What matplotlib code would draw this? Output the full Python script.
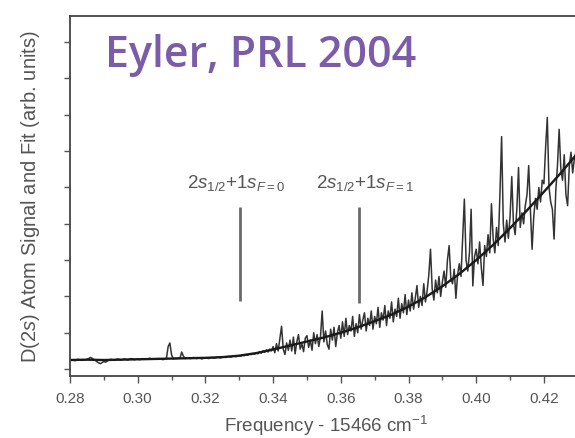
"""
D(2s) atom signal and fit vs. frequency (Eyler, PRL 2004) - reproduction.
"""

import numpy as np
import matplotlib
matplotlib.use('Agg')
import matplotlib.pyplot as plt
from matplotlib.ticker import MultipleLocator, FixedLocator

# === Data (arb. units) ===
FREQ_START = 0.2800   # Frequency - 15466 cm^-1
FREQ_STEP = 0.0005

SIGNAL = [
    0.24, 0.26, 0.25, 0.23, 0.26, 0.27, 0.25, 0.24, 0.26, 0.25,
    0.27, 0.29, 0.32, 0.30, 0.27, 0.24, 0.20, 0.17, 0.15, 0.18,
    0.21, 0.19, 0.22, 0.25, 0.27, 0.26, 0.24, 0.26, 0.28, 0.27,
    0.25, 0.26, 0.28, 0.27, 0.25, 0.27, 0.29, 0.28, 0.26, 0.27,
    0.28, 0.26, 0.27, 0.29, 0.28, 0.27, 0.28, 0.30, 0.28, 0.27,
    0.28, 0.27, 0.29, 0.28, 0.27, 0.26, 0.28, 0.30, 0.62, 0.72,
    0.40, 0.28, 0.30, 0.29, 0.31, 0.30, 0.47, 0.36, 0.29, 0.30,
    0.31, 0.29, 0.30, 0.32, 0.30, 0.29, 0.31, 0.30, 0.28, 0.30,
    0.31, 0.30, 0.29, 0.31, 0.32, 0.30, 0.31, 0.33, 0.32, 0.31,
    0.33, 0.34, 0.32, 0.34, 0.35, 0.33, 0.35, 0.36, 0.34, 0.36,
    0.37, 0.36, 0.39, 0.37, 0.40, 0.38, 0.42, 0.40, 0.43, 0.41,
    0.45, 0.42, 0.48, 0.44, 0.50, 0.46, 0.53, 0.47, 0.55, 0.50,
    0.62, 0.45, 0.70, 0.50, 0.85, 1.18, 0.55, 0.40, 0.72, 0.52,
    0.80, 0.50, 0.88, 0.42, 0.75, 0.95, 0.55, 0.70, 0.48, 0.85,
    0.92, 0.60, 0.80, 0.52, 1.00, 0.70, 0.95, 0.62, 0.90, 1.60,
    0.75, 1.05, 0.68, 0.55, 1.10, 0.80, 1.15, 0.62, 1.00, 1.20,
    0.85, 1.30, 0.90, 1.40, 0.95, 1.20, 1.05, 1.45, 0.90, 1.25,
    1.00, 1.50, 1.10, 1.35, 1.55, 1.05, 1.40, 1.20, 1.60, 1.10,
    1.45, 1.25, 1.70, 1.15, 1.55, 1.35, 1.75, 1.20, 1.60, 1.40,
    1.85, 1.30, 1.65, 1.45, 1.95, 1.40, 1.80, 1.55, 2.05, 1.50,
    1.90, 1.60, 2.10, 1.65, 1.95, 2.30, 1.70, 2.00, 1.75, 2.35,
    1.85, 2.15, 2.60, 3.30, 2.20, 1.90, 2.45, 2.10, 2.55, 2.00,
    2.40, 2.70, 2.25, 3.00, 3.40, 2.50, 2.35, 2.75, 1.95, 2.60,
    2.90, 2.55, 3.60, 4.68, 3.00, 2.70, 3.20, 4.40, 2.29, 3.10,
    3.30, 2.90, 3.50, 2.80, 2.30, 3.40, 3.10, 3.70, 3.20, 4.55,
    3.60, 3.20, 3.90, 3.40, 4.80, 6.40, 4.00, 3.50, 4.10, 3.60,
    4.20, 5.30, 4.00, 3.70, 4.40, 5.55, 3.90, 4.30, 4.00, 4.50,
    4.80, 5.60, 4.40, 3.30, 4.20, 4.70, 4.40, 5.00, 4.60, 5.20,
    5.10, 6.10, 6.93, 5.00, 4.60, 4.40, 3.58, 4.90, 5.60, 6.60,
    5.50, 5.20, 5.90, 4.80, 4.50, 5.60, 5.97, 5.40, 5.80, 6.00,
]

# smooth fit, sampled every 0.005
FIT_FREQ = [0.280, 0.285, 0.290, 0.295, 0.300, 0.305, 0.310, 0.315, 0.320,
            0.325, 0.330, 0.335, 0.340, 0.345, 0.350, 0.355, 0.360, 0.365,
            0.370, 0.375, 0.380, 0.385, 0.390, 0.395, 0.400, 0.405, 0.410,
            0.415, 0.420, 0.425, 0.430]
FIT_VALUE = [0.25, 0.26, 0.25, 0.26, 0.27, 0.28, 0.29, 0.30, 0.31,
             0.33, 0.37, 0.44, 0.54, 0.65, 0.76, 0.87, 1.00, 1.15,
             1.32, 1.50, 1.72, 1.98, 2.28, 2.62, 3.00, 3.42, 3.88,
             4.37, 4.88, 5.40, 5.95]

X_TICKS = [0.28, 0.30, 0.32, 0.34, 0.36, 0.38, 0.40, 0.42]

# hyperfine line positions and their labels
MARK_FREQ = [0.3302, 0.3654]
MARK_TOP = [4.46, 4.46]
MARK_BOTTOM = [1.87, 1.82]
MARK_LABELS = [r'$2s_{1/2}$+1$s_{F=0}$', r'$2s_{1/2}$+1$s_{F=1}$']
LABEL_FREQ = [0.3292, 0.3672]
LABEL_Y = 5.15

TEXT_GRAY = '#555555'
LINE_GRAY = '#333333'

plt.rcParams['font.family'] = ['Liberation Sans', 'DejaVu Sans']
plt.rcParams['mathtext.fontset'] = 'custom'
plt.rcParams['mathtext.rm'] = 'Liberation Sans'
plt.rcParams['mathtext.it'] = 'Liberation Sans:italic'

freq = FREQ_START + FREQ_STEP * np.arange(len(SIGNAL))

fig = plt.figure(figsize=(5.75, 4.39), dpi=100)
# axes run past the right edge of the figure (the scan is cropped there)
ax = fig.add_axes([0.1217, 0.1412, 0.942, 0.8201])

ax.plot(freq, SIGNAL, color=LINE_GRAY, linewidth=1.1)
ax.plot(FIT_FREQ, FIT_VALUE, color='#1a1a1a', linewidth=1.7)

for f, y0, y1 in zip(MARK_FREQ, MARK_BOTTOM, MARK_TOP):
    ax.plot([f, f], [y0, y1], color='#6a6a6a', linewidth=2.0, solid_capstyle='butt')
for f, lab in zip(LABEL_FREQ, MARK_LABELS):
    ax.text(f, LABEL_Y, lab, ha='center', va='center', fontsize=13.5, color=TEXT_GRAY)

ax.set_xlim(0.28, 0.44)
ax.set_ylim(-0.19, 9.72)
ax.xaxis.set_major_locator(FixedLocator(X_TICKS))
ax.xaxis.set_minor_locator(MultipleLocator(0.01))
ax.yaxis.set_major_locator(MultipleLocator(1))
ax.set_xticklabels([f'{v:.2f}' for v in X_TICKS])
ax.tick_params(axis='x', which='major', direction='out', length=5, width=1,
               colors=TEXT_GRAY, labelsize=11, pad=6)
ax.tick_params(axis='x', which='minor', direction='out', length=3, width=1, colors=TEXT_GRAY)
ax.tick_params(axis='y', which='major', direction='out', length=4, width=1,
               colors=TEXT_GRAY, labelleft=False)
for side in ['left', 'top', 'bottom']:
    ax.spines[side].set_color('#444444')
    ax.spines[side].set_linewidth(1.3)
ax.spines['right'].set_visible(False)

ax.set_xlabel(r'Frequency - 15466 cm$^{-1}$', fontsize=13.5, color=TEXT_GRAY)
# the axes extend past the figure, so centre the label on the visible part
ax.xaxis.set_label_coords(0.473, -0.103)
ax.set_ylabel(r'D(2$s$) Atom Signal and Fit (arb. units)', fontsize=14.5,
              color=TEXT_GRAY, labelpad=16)

fig.text(105 / 575, 1 - 67 / 439, 'Eyler, PRL 2004', fontsize=31, color='#7a5ca8',
         family=['Open Sans', 'DejaVu Sans'], fontweight='semibold',
         ha='left', va='baseline')

fig.savefig('out.png', dpi=100)
